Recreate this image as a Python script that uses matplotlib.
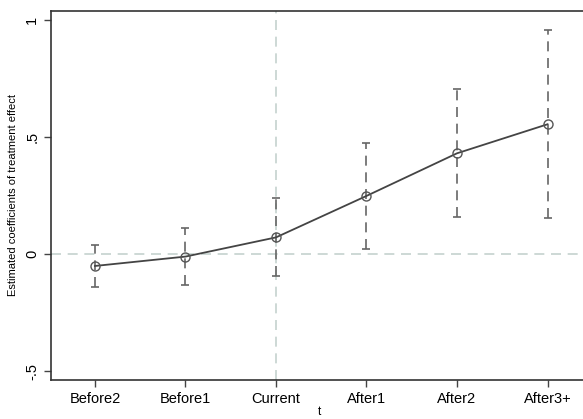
import numpy as np
import matplotlib.pyplot as plt

plt.rcParams['font.family'] = ['Liberation Sans', 'DejaVu Sans']

periods = ["Before2", "Before1", "Current", "After1", "After2", "After3+"]
coef = [-0.051, -0.011, 0.071, 0.248, 0.430, 0.554]
ci_low = [-0.141, -0.134, -0.095, 0.020, 0.157, 0.153]
ci_high = [0.040, 0.111, 0.240, 0.476, 0.704, 0.956]

x = np.arange(1, len(periods) + 1)
coef = np.array(coef)
lo = coef - np.array(ci_low)
hi = np.array(ci_high) - coef

fig = plt.figure(figsize=(5.83, 4.19), dpi=100)
ax = fig.add_axes([0.0875, 0.093, 0.92, 0.881])

ax.axhline(0, color='#c5d2ce', lw=1.2, ls=(0, (6, 4)), zorder=1)
ax.axvline(3, color='#c5d2ce', lw=1.2, ls=(0, (6, 4)), zorder=1)

eb = ax.errorbar(x, coef, yerr=[lo, hi], fmt='none', ecolor='#666666',
                 elinewidth=1.2, capsize=3, capthick=1.2, zorder=2)
eb[2][0].set_linestyle((0, (6, 4)))
ax.plot(x, coef, color='#444444', lw=1.3, marker='o', ms=6.5,
        mfc='none', mec='#555555', mew=1.0, zorder=3)

ax.set_xlim(0.515, 6.44)
ax.set_ylim(-0.538, 1.038)
ax.set_xticks(x)
ax.set_xticklabels(periods, fontsize=10.5)
ax.set_yticks([-0.5, 0, 0.5, 1])
ax.set_yticklabels(['-.5', '0', '.5', '1'], fontsize=10.5, rotation=90, va='center')
ax.set_ylabel('Estimated coefficients of treatment effect', fontsize=8, labelpad=5)
ax.set_xlabel('t', fontsize=8.5, labelpad=0)
ax.tick_params(length=5, color='#444444', width=1)
for s in ax.spines.values():
    s.set_color('#333333')
    s.set_linewidth(1.2)

fig.savefig('out.png', dpi=100)
